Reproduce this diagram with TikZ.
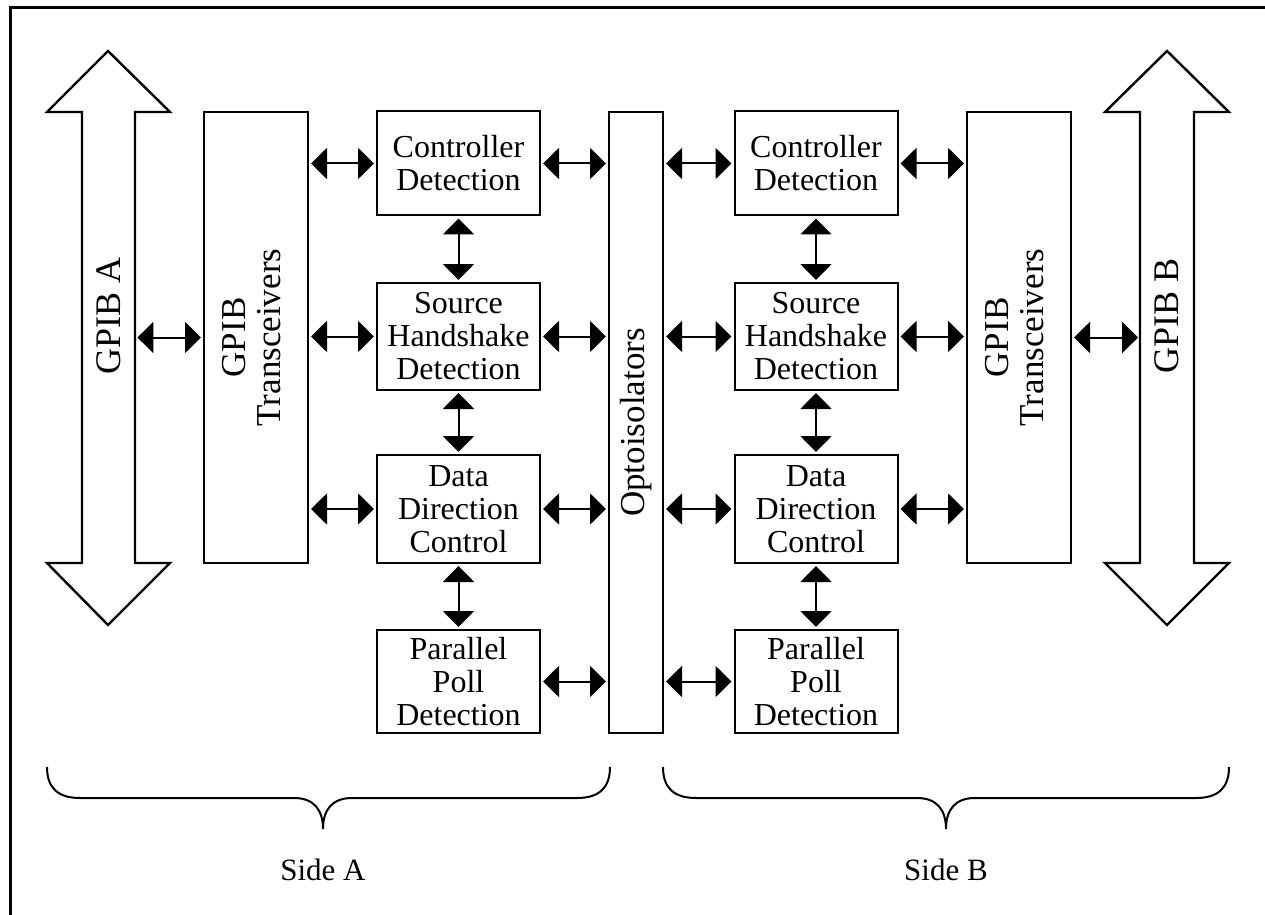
\documentclass[tikz,border=0pt]{standalone}
\usepackage{fontspec}
\setmainfont{Liberation Serif}
\usetikzlibrary{arrows.meta}
\begin{document}
\begin{tikzpicture}[x=0.5pt,y=-0.5pt,
  font=\fontsize{15.5}{16.5}\selectfont,
  blk/.style={draw, line width=1pt, minimum width=81.5pt, align=center, inner sep=0pt,
    font=\fontsize{16}{16.5}\selectfont},
  tall/.style={draw, line width=1pt, inner sep=0pt, align=center,
    font=\fontsize{17.5}{17.5}\selectfont},
  vlabel/.style={inner sep=0pt, font=\fontsize{18}{18}\selectfont},
  dbl/.style={line width=1pt, {Triangle[length=8pt,width=15.5pt]}-{Triangle[length=8pt,width=15.5pt]}, shorten <=1pt, shorten >=1pt},
  bigarrow/.style={line width=1.2pt, line join=miter},
  brace/.style={line width=1pt}]
\useasboundingbox (0,0) rectangle (1265,915);
% frame
\draw[line width=1.5pt] (10.5,915) -- (10.5,8) -- (1265,8);
% big bus arrows
\draw[bigarrow] (108,51) -- (170,112) -- (135,112) -- (135,563) -- (170,563) -- (108,625) -- (47,563) -- (82,563) -- (82,112) -- (47,112) -- cycle;
\draw[bigarrow] (1167,51) -- (1229,112) -- (1194,112) -- (1194,563) -- (1229,563) -- (1167,625) -- (1105,563) -- (1140,563) -- (1140,112) -- (1105,112) -- cycle;
\node[inner sep=0pt, minimum width=26.5pt, minimum height=225.5pt] (gpibA) at (108.5,337.5) {};
\node[inner sep=0pt, minimum width=26.5pt, minimum height=225.5pt] (gpibB) at (1167,337.5) {};
\node[vlabel] (labA) at (108.5,316) {\rotatebox{90}{GPIB A}};
\node[vlabel] (labB) at (1167,316) {\rotatebox{90}{GPIB B}};
% transceivers
\node[tall, minimum width=52pt, minimum height=225.5pt] (transA) at (256,337.5)
  {\rotatebox{90}{\begin{tabular}{@{}c@{}}GPIB\\Transceivers\end{tabular}}};
\node[tall, minimum width=52pt, minimum height=225.5pt] (transB) at (1019,337.5)
  {\rotatebox{90}{\begin{tabular}{@{}c@{}}GPIB\\Transceivers\end{tabular}}};
% optoisolators
\node[tall, minimum width=27pt, minimum height=310.5pt] (opto) at (636,422.5)
  {\rotatebox{90}{Optoisolators}};
% side A blocks
\node[blk, minimum height=52pt] (ctrlA) at (458.5,163.5) {Controller\\Detection};
\node[blk, minimum height=53.5pt] (srcA) at (458.5,336.5) {Source\\Handshake\\Detection};
\node[blk, minimum height=54pt] (dataA) at (458.5,509) {Data\\Direction\\Control};
\node[blk, minimum height=51.5pt] (parA) at (458.5,681.5) {Parallel\\Poll\\Detection};
% side B blocks
\node[blk, minimum height=52pt] (ctrlB) at (816,163.5) {Controller\\Detection};
\node[blk, minimum height=53.5pt] (srcB) at (816,336.5) {Source\\Handshake\\Detection};
\node[blk, minimum height=54pt] (dataB) at (816,509) {Data\\Direction\\Control};
\node[blk, minimum height=51.5pt] (parB) at (816,681.5) {Parallel\\Poll\\Detection};
% connectors side A
\draw[dbl] (gpibA.east) -- (transA.west);
\foreach \b in {ctrlA,srcA,dataA} {
  \draw[dbl] (transA.east |- \b.west) -- (\b.west);
}
\foreach \b in {ctrlA,srcA,dataA,parA} {
  \draw[dbl] (\b.east) -- (opto.west |- \b.east);
}
\draw[dbl] (ctrlA.south) -- (srcA.north);
\draw[dbl] (srcA.south) -- (dataA.north);
\draw[dbl] (dataA.south) -- (parA.north);
% connectors side B
\foreach \b in {ctrlB,srcB,dataB,parB} {
  \draw[dbl] (opto.east |- \b.west) -- (\b.west);
}
\foreach \b in {ctrlB,srcB,dataB} {
  \draw[dbl] (\b.east) -- (transB.west |- \b.east);
}
\draw[dbl] (transB.east) -- (gpibB.west);
\draw[dbl] (ctrlB.south) -- (srcB.north);
\draw[dbl] (srcB.south) -- (dataB.north);
\draw[dbl] (dataB.south) -- (parB.north);
% braces
\draw[brace] (47,767) .. controls (47,788) and (58,798) .. (80,798) -- (294,798)
  .. controls (314,798) and (323,810) .. (323,829)
  .. controls (323,810) and (332,798) .. (352,798) -- (577,798)
  .. controls (599,798) and (610,788) .. (610,767);
\draw[brace] (663,767) .. controls (663,788) and (674,798) .. (696,798) -- (917,798)
  .. controls (937,798) and (946,810) .. (946,829)
  .. controls (946,810) and (955,798) .. (975,798) -- (1196,798)
  .. controls (1218,798) and (1229,788) .. (1229,767);
\node (sideA) at (323,870) {Side A};
\node (sideB) at (946,870) {Side B};
\end{tikzpicture}
\end{document}
